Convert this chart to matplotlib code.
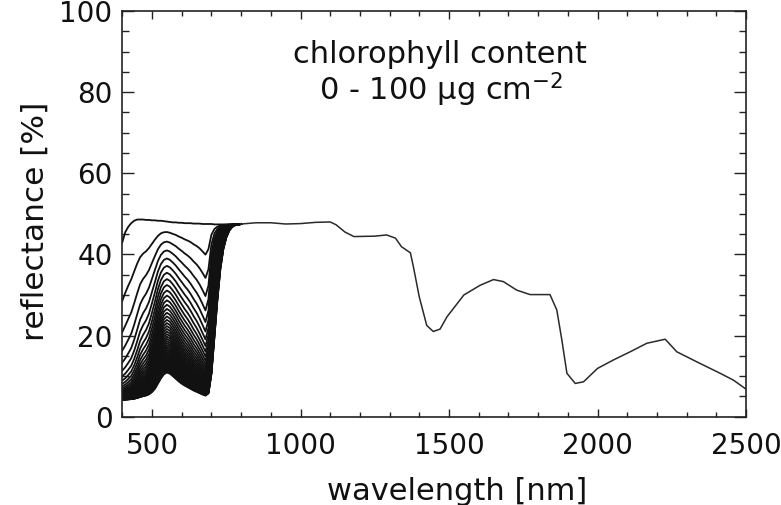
import numpy as np
import matplotlib
matplotlib.use("Agg")
import matplotlib.pyplot as plt
from matplotlib.ticker import MultipleLocator

# ---------------- data ----------------
# wavelength nodes [nm]
wavelength = [400, 410, 420, 430, 440, 450, 460, 470, 480, 490, 500, 510, 520, 530,
              540, 550, 560, 570, 580, 590, 600, 610, 620, 630, 640, 650, 660, 670,
              680, 690, 700, 710, 720, 730, 740, 750, 760, 770, 780, 800, 850, 900,
              950, 1000, 1050, 1100, 1120, 1150, 1180, 1250, 1290, 1320, 1340, 1370,
              1380, 1400, 1425, 1447, 1470, 1493, 1550, 1605, 1650, 1683, 1728, 1773,
              1840, 1863, 1880, 1897, 1925, 1953, 2000, 2054, 2110, 2166, 2228, 2267,
              2335, 2413, 2458, 2500]

# reflectance [%] of the leaf without chlorophyll (top curve)
refl_no_chl = [43.0, 45.5, 46.8, 47.7, 48.3, 48.6, 48.6, 48.6, 48.5, 48.5, 48.4, 48.4,
               48.3, 48.3, 48.2, 48.1, 48.0, 47.9, 47.9, 47.8, 47.8, 47.7, 47.7, 47.7,
               47.6, 47.6, 47.6, 47.5, 47.5, 47.5, 47.5, 47.4, 47.4, 47.4, 47.4, 47.4,
               47.4, 47.4, 47.4, 47.5, 47.8, 47.8, 47.5, 47.6, 47.9, 48.0, 47.3, 45.5,
               44.4, 44.5, 44.8, 44.0, 41.9, 40.4, 37.0, 29.5, 22.5, 21.0, 21.6, 24.6,
               30.0, 32.4, 33.8, 33.3, 31.2, 30.1, 30.1, 26.3, 18.9, 10.7, 8.2, 8.6,
               11.9, 14.0, 16.0, 18.1, 19.1, 16.0, 13.5, 10.7, 9.0, 6.8]

# specific chlorophyll absorption [cm2/ug] estimated from the spread of the curves
chl_absorption = [0.130, 0.125, 0.115, 0.105, 0.090, 0.075, 0.062, 0.055, 0.050, 0.044,
                  0.036, 0.029, 0.0225, 0.0185, 0.0162, 0.0153, 0.0158, 0.0170, 0.0186,
                  0.0205, 0.0225, 0.0245, 0.0265, 0.0290, 0.0320, 0.0350, 0.0390,
                  0.0440, 0.0500, 0.0400, 0.0160, 0.0068, 0.0033, 0.0016, 0.0008,
                  0.0004, 0.00018, 0.00007, 0.00002] + [0.0] * 43

surface_refl = 4.0          # reflectance floor [%]
chl_levels = list(range(0, 101, 2))   # chlorophyll content [ug cm-2]

# ---------------- figure ----------------
plt.rcParams['font.family'] = ['DejaVu Sans']
W, H = 781, 505
fig = plt.figure(figsize=(W / 100, H / 100), dpi=100)
x0, x1, y0, y1 = 122.3, 746.0, 11.0, 416.7
ax = fig.add_axes([x0 / W, 1 - y1 / H, (x1 - x0) / W, (y1 - y0) / H])

wl = np.array(wavelength, dtype=float)
r0 = np.array(refl_no_chl, dtype=float)
k = np.array(chl_absorption, dtype=float)

# visible / red-edge part: one curve per chlorophyll level
n_vis = wavelength.index(800) + 1
for c in chl_levels:
    refl = surface_refl + (r0 - surface_refl) * (1.0 + k * c) ** -2
    ax.plot(wl[:n_vis], refl[:n_vis], color='#111111', lw=1.3,
            solid_joinstyle='round')
# beyond the red edge all curves coincide
ax.plot(wl[n_vis - 1:], r0[n_vis - 1:], color='#2a2a2a', lw=1.1,
        solid_joinstyle='round')

ax.set_xlim(400, 2500)
ax.set_ylim(0, 100)
ax.xaxis.set_major_locator(MultipleLocator(500))
ax.xaxis.set_minor_locator(MultipleLocator(100))
ax.yaxis.set_major_locator(MultipleLocator(20))
ax.yaxis.set_minor_locator(MultipleLocator(5))
ax.set_xticks([500, 1000, 1500, 2000, 2500])

ax.tick_params(axis='both', which='both', direction='in', top=True, right=True,
               width=1.0, color='#222222', labelcolor='#111111')
ax.tick_params(axis='x', which='major', length=5.5, pad=11, labelsize=20)
ax.tick_params(axis='x', which='minor', length=3.6)
ax.tick_params(axis='y', which='major', length=8.5, pad=7, labelsize=20)
ax.tick_params(axis='y', which='minor', length=4.7)
for s in ax.spines.values():
    s.set_linewidth(1.2)
    s.set_color('#222222')

ax.set_xlabel('wavelength [nm]', fontsize=22, color='#111111')
ax.xaxis.label.set_va('center')
ax.xaxis.set_label_coords((457 - x0) / (x1 - x0), (y1 - 491) / (y1 - y0))
ax.set_ylabel('reflectance [%]', fontsize=22.5, color='#111111')
ax.yaxis.label.set_va('center')
ax.yaxis.set_label_coords((35 - x0) / (x1 - x0), (y1 - 221) / (y1 - y0))

fig.text(440 / W, 1 - 63.3 / H, 'chlorophyll content', ha='center', va='baseline',
         fontsize=22, color='#111111')
fig.text(441 / W, 1 - 100 / H, '0 - 100 µg cm$^{\\mathregular{-2}}$', ha='center',
         va='baseline', fontsize=22, color='#111111')

fig.savefig('out.png', dpi=100)
